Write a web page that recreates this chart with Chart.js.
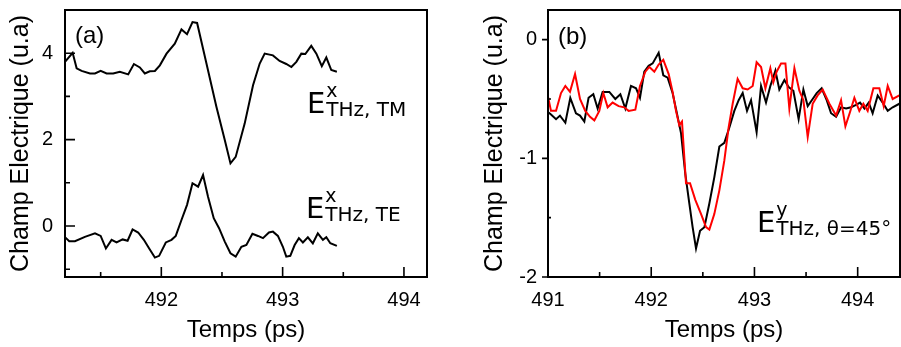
<!DOCTYPE html>
<html>
<head>
<meta charset="utf-8">
<script src="https://cdn.jsdelivr.net/npm/chart.js@4.4.1/dist/chart.umd.min.js"></script>
<style>
  html, body { margin: 0; padding: 0; background: #fff; }
  #wrap { position: relative; width: 901px; height: 347px; }
  canvas { position: absolute; top: 0; }
</style>
</head>
<body>
<div id="wrap">
  <canvas id="chartA" width="450" height="347" style="left:0"></canvas>
  <canvas id="chartB" width="451" height="347" style="left:450px"></canvas>
</div>
<script>
// (a) E_x, TM polarisation (offset curve)
const tmTime = [491.206,491.269,491.302,491.343,491.412,491.453,491.500,491.549,491.603,491.658,491.727,491.774,491.823,491.864,491.905,491.947,491.988,492.043,492.111,492.166,492.212,492.257,492.295,492.372,492.454,492.523,492.570,492.613,492.687,492.756,492.811,492.852,492.920,492.975,493.030,493.072,493.113,493.154,493.187,493.236,493.278,493.323,493.360,493.401,493.447];
const tmField = [3.80,4.01,3.65,3.59,3.53,3.53,3.59,3.53,3.53,3.57,3.51,3.75,3.67,3.53,3.58,3.59,3.72,3.99,4.22,4.55,4.44,4.72,4.70,3.76,2.76,1.99,1.45,1.60,2.37,3.26,3.76,3.99,3.95,3.82,3.75,3.68,3.80,3.99,3.98,4.17,3.99,3.70,3.90,3.61,3.57];

// (a) E_x, TE polarisation
const teTime = [491.206,491.241,491.288,491.370,491.453,491.500,491.543,491.590,491.631,491.681,491.722,491.763,491.809,491.856,491.900,491.947,491.982,492.037,492.084,492.119,492.166,492.212,492.257,492.303,492.344,492.385,492.432,492.476,492.523,492.570,492.613,492.660,492.701,492.751,492.797,492.838,492.887,492.920,492.961,493.002,493.030,493.063,493.099,493.134,493.167,493.208,493.249,493.290,493.332,493.360,493.393,493.447];
const teField = [-0.26,-0.35,-0.35,-0.25,-0.17,-0.23,-0.52,-0.32,-0.38,-0.31,-0.34,-0.08,-0.15,-0.32,-0.52,-0.73,-0.69,-0.38,-0.32,-0.23,0.14,0.49,0.99,0.91,1.18,0.68,0.18,-0.05,-0.36,-0.63,-0.71,-0.48,-0.44,-0.18,-0.23,-0.28,-0.15,-0.13,-0.23,-0.48,-0.71,-0.69,-0.44,-0.28,-0.38,-0.26,-0.40,-0.17,-0.32,-0.26,-0.40,-0.46];

// (b) E_y at 45 deg, black trace
const bkTime = [491.000,491.029,491.078,491.116,491.168,491.216,491.271,491.310,491.352,491.393,491.439,491.481,491.529,491.594,491.652,491.701,491.749,491.804,491.853,491.891,491.933,491.975,492.014,492.072,492.117,492.159,492.207,492.246,492.289,492.330,492.369,492.401,492.434,492.473,492.515,492.563,492.611,492.660,492.708,492.757,492.805,492.847,492.886,492.928,492.967,493.021,493.064,493.112,493.154,493.203,493.241,493.290,493.331,493.377,493.428,493.474,493.516,493.564,493.603,493.651,493.700,493.742,493.791,493.839,493.888,493.936,493.984,494.023,494.065,494.107,494.145,494.194,494.242,494.291,494.339,494.404];
const bkField = [-0.61,-0.63,-0.67,-0.64,-0.70,-0.49,-0.62,-0.64,-0.69,-0.49,-0.46,-0.58,-0.44,-0.44,-0.50,-0.46,-0.58,-0.39,-0.41,-0.49,-0.27,-0.22,-0.20,-0.11,-0.30,-0.32,-0.45,-0.61,-0.79,-1.13,-1.38,-1.58,-1.76,-1.61,-1.58,-1.38,-1.16,-0.90,-0.87,-0.74,-0.60,-0.51,-0.45,-0.60,-0.51,-0.78,-0.39,-0.53,-0.39,-0.26,-0.42,-0.34,-0.40,-0.43,-0.67,-0.42,-0.56,-0.50,-0.45,-0.41,-0.51,-0.62,-0.65,-0.57,-0.58,-0.57,-0.55,-0.53,-0.58,-0.53,-0.62,-0.47,-0.53,-0.60,-0.57,-0.54];

// (b) red trace
const rdTime = [491.000,491.029,491.078,491.126,491.168,491.213,491.262,491.310,491.361,491.407,491.449,491.497,491.536,491.578,491.626,491.684,491.739,491.781,491.846,491.891,491.943,491.982,492.030,492.072,492.117,492.169,492.207,492.240,492.272,492.298,492.337,492.376,492.427,492.483,492.531,492.563,492.611,492.660,492.708,492.750,492.789,492.837,492.886,492.934,492.983,493.021,493.064,493.106,493.154,493.183,493.215,493.258,493.300,493.338,493.387,493.435,493.474,493.516,493.564,493.612,493.661,493.726,493.791,493.839,493.881,493.926,493.968,494.016,494.055,494.097,494.152,494.210,494.252,494.291,494.339,494.404];
const rdField = [-0.48,-0.60,-0.60,-0.45,-0.39,-0.44,-0.29,-0.50,-0.60,-0.65,-0.68,-0.60,-0.45,-0.57,-0.53,-0.56,-0.57,-0.60,-0.59,-0.39,-0.27,-0.23,-0.27,-0.21,-0.17,-0.29,-0.44,-0.60,-0.72,-0.69,-1.21,-1.21,-1.35,-1.47,-1.58,-1.60,-1.47,-1.27,-1.02,-0.74,-0.54,-0.33,-0.41,-0.42,-0.39,-0.19,-0.23,-0.41,-0.24,-0.36,-0.27,-0.20,-0.20,-0.58,-0.24,-0.43,-0.51,-0.82,-0.54,-0.47,-0.42,-0.54,-0.64,-0.51,-0.73,-0.61,-0.49,-0.60,-0.54,-0.60,-0.41,-0.41,-0.56,-0.39,-0.50,-0.47];

// tick values
const aXMajor = [492, 493, 494];
const aXMinor = [491.5, 492.5, 493.5];
const aYMajor = [0, 2, 4];
const aYMinor = [-1, 1, 3];
const bXMajor = [491, 492, 493, 494];
const bXMinor = [491.5, 492.5, 493.5];
const bYMajor = [-2, -1, 0];
const bYMinor = [-1.5, -0.5];

const SANS = "'Liberation Sans', Arial, sans-serif";
const DV = "'DejaVu Sans', sans-serif";

const pairs = (xs, ys) => xs.map((x, i) => ({ x: x, y: ys[i] }));

// frame + inward/outward tick marks
const frameTicks = {
  id: 'frameTicks',
  afterDraw(chart, args, o) {
    const { ctx, chartArea: a, scales: { x, y } } = chart;
    ctx.save();
    ctx.strokeStyle = '#000';
    ctx.lineWidth = 2;
    ctx.strokeRect(a.left, a.top, a.right - a.left, a.bottom - a.top);
    ctx.lineWidth = 1.6;
    ctx.beginPath();
    o.xMajor.forEach(v => { const p = x.getPixelForValue(v); ctx.moveTo(p, a.bottom); ctx.lineTo(p, a.bottom - 10); });
    o.xMinor.forEach(v => { const p = x.getPixelForValue(v); ctx.moveTo(p, a.bottom); ctx.lineTo(p, a.bottom - 5); });
    o.yMajor.forEach(v => { const p = y.getPixelForValue(v); ctx.moveTo(a.left, p); ctx.lineTo(a.left + o.yMajLen, p); });
    o.yMinor.forEach(v => { const p = y.getPixelForValue(v); ctx.moveTo(a.left, p); ctx.lineTo(a.left + o.yMinLen, p); });
    ctx.stroke();
    ctx.restore();
  }
};

// E^sup_sub field labels and panel letters
const labels = {
  id: 'labels',
  afterDraw(chart, args, o) {
    const ctx = chart.ctx;
    ctx.save();
    ctx.fillStyle = '#000';
    ctx.textBaseline = 'alphabetic';
    ctx.textAlign = 'left';
    ctx.font = '24px ' + SANS;
    ctx.fillText(o.panel[0], o.panel[1], o.panel[2]);
    o.fields.forEach(f => {
      ctx.font = '29px ' + DV;
      ctx.fillText('E', f.x, f.y);
      const w = ctx.measureText('E').width;
      ctx.font = '19px ' + DV;
      ctx.fillText(f.sup, f.x + w + 1, f.y - 16);
      ctx.font = '20px ' + DV;
      ctx.fillText(f.sub, f.x + w + 1, f.y + 3);
    });
    ctx.restore();
  }
};

function axisX(min, max, major) {
  return {
    type: 'linear', min: min, max: max,
    afterBuildTicks: s => { s.ticks = major.map(v => ({ value: v })); },
    afterFit: s => { s.height = 70; s.paddingLeft = 0; s.paddingRight = 0; },
    grid: { display: false, drawTicks: false },
    border: { display: false },
    ticks: { autoSkip: false, maxRotation: 0, padding: 11, color: '#000', font: { family: SANS, size: 20 }, callback: v => String(v) },
    title: { display: true, text: 'Temps (ps)', color: '#000', font: { family: SANS, size: 24 }, padding: { top: 0, bottom: 2 } }
  };
}

function axisY(min, max, major, width, pad, titlePad) {
  return {
    type: 'linear', min: min, max: max,
    afterBuildTicks: s => { s.ticks = major.map(v => ({ value: v })); },
    afterFit: s => { s.width = width; s.paddingTop = 0; s.paddingBottom = 0; },
    grid: { display: false, drawTicks: false },
    border: { display: false },
    ticks: { autoSkip: false, padding: pad, color: '#000', font: { family: SANS, size: 20 }, callback: v => String(v) },
    title: { display: true, text: 'Champ Electrique (u.a)', color: '#000', font: { family: SANS, size: 25 }, padding: { top: titlePad, bottom: 0 } }
  };
}

new Chart(document.getElementById('chartA'), {
  type: 'line',
  data: {
    datasets: [
      { data: pairs(tmTime, tmField), borderColor: '#000', borderWidth: 2, pointRadius: 0, tension: 0 },
      { data: pairs(teTime, teField), borderColor: '#000', borderWidth: 2, pointRadius: 0, tension: 0 }
    ]
  },
  options: {
    responsive: false, animation: false, devicePixelRatio: 1,
    layout: { padding: { top: 10, right: 23, bottom: 0, left: 0 } },
    plugins: {
      legend: { display: false }, tooltip: { enabled: false },
      frameTicks: { xMajor: aXMajor, xMinor: aXMinor, yMajor: aYMajor, yMinor: aYMinor, yMajLen: 10, yMinLen: 5 },
      labels: {
        panel: ['(a)', 75, 43],
        fields: [
          { x: 307, y: 113, sup: 'x', sub: 'THz, TM' },
          { x: 306, y: 218, sup: 'x', sub: 'THz, TE' }
        ]
      }
    },
    scales: {
      x: axisX(491.206, 494.19, aXMajor),
      y: axisY(-1.18, 5.0, aYMajor, 65, 12, 6)
    }
  },
  plugins: [frameTicks, labels]
});

new Chart(document.getElementById('chartB'), {
  type: 'line',
  data: {
    datasets: [
      { data: pairs(rdTime, rdField), borderColor: '#ff0000', borderWidth: 2, pointRadius: 0, tension: 0 },
      { data: pairs(bkTime, bkField), borderColor: '#000', borderWidth: 2, pointRadius: 0, tension: 0 }
    ]
  },
  options: {
    responsive: false, animation: false, devicePixelRatio: 1,
    layout: { padding: { top: 10, right: 1, bottom: 0, left: 0 } },
    plugins: {
      legend: { display: false }, tooltip: { enabled: false },
      frameTicks: { xMajor: bXMajor, xMinor: bXMinor, yMajor: bYMajor, yMinor: bYMinor, yMajLen: -6, yMinLen: 3 },
      labels: {
        panel: ['(b)', 108, 44],
        fields: [
          { x: 307, y: 232, sup: 'y', sub: 'THz, \u03b8=45\u00b0' }
        ]
      }
    },
    scales: {
      x: axisX(491, 494.41, bXMajor),
      y: axisY(-2, 0.25, bYMajor, 98, 11, 30)
    }
  },
  plugins: [frameTicks, labels]
});
</script>
</body>
</html>
